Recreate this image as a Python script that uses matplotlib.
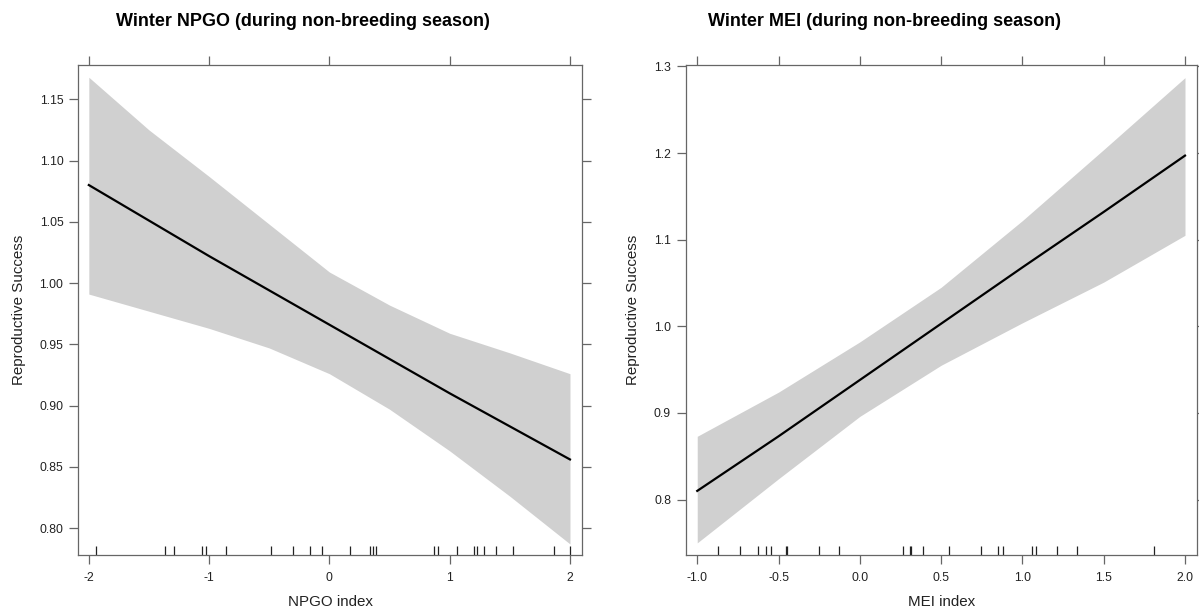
import matplotlib
matplotlib.use("Agg")
import matplotlib.pyplot as plt

plt.rcParams['font.family'] = ['Liberation Sans', 'DejaVu Sans']

# --- NPGO panel ---
npgo_x = [-2.0, -1.5, -1.0, -0.5, 0.0, 0.5, 1.0, 1.5, 2.0]
npgo_fit = [1.080, 1.051, 1.022, 0.994, 0.966, 0.938, 0.910, 0.883, 0.856]
npgo_upper = [1.168, 1.125, 1.087, 1.048, 1.009, 0.982, 0.959, 0.943, 0.926]
npgo_lower = [0.991, 0.977, 0.963, 0.947, 0.926, 0.897, 0.863, 0.826, 0.787]
npgo_rug = [-1.94, -1.367, -1.295, -1.062, -1.026, -0.859, -0.488, -0.305,
            -0.161, -0.058, 0.172, 0.338, 0.366, 0.388, 0.870, 0.906, 1.059,
            1.203, 1.231, 1.286, 1.383, 1.530, 1.868, 2.0]
npgo_xticks = [-2, -1, 0, 1, 2]
npgo_yticks = [0.80, 0.85, 0.90, 0.95, 1.00, 1.05, 1.10, 1.15]

# --- MEI panel ---
mei_x = [-1.0, -0.5, 0.0, 0.5, 1.0, 1.5, 2.0]
mei_fit = [0.810, 0.873, 0.938, 1.003, 1.068, 1.132, 1.197]
mei_upper = [0.873, 0.924, 0.982, 1.045, 1.122, 1.204, 1.287]
mei_lower = [0.750, 0.824, 0.896, 0.955, 1.004, 1.051, 1.105]
mei_rug = [-0.874, -0.734, -0.628, -0.578, -0.546, -0.457, -0.450, -0.250,
           -0.127, 0.265, 0.306, 0.316, 0.386, 0.550, 0.747, 0.849, 0.878,
           1.058, 1.081, 1.212, 1.335, 1.811]
mei_xticks = [-1.0, -0.5, 0.0, 0.5, 1.0, 1.5, 2.0]
mei_yticks = [0.8, 0.9, 1.0, 1.1, 1.2, 1.3]

fig = plt.figure(figsize=(11.99, 6.12), dpi=100)
W, H = 1199, 612


def panel(rect, x, fit, lo, hi, rug, xticks, yticks, xlim, ylim, xfmt, yfmt,
          xlabel):
    ax = fig.add_axes(rect)
    ax.fill_between(x, lo, hi, color='#d0d0d0', linewidth=0)
    ax.plot(x, fit, color='black', linewidth=1.6)
    ax.vlines(rug, 0, 0.019, transform=ax.get_xaxis_transform(),
              color='#222222', linewidth=0.9)
    ax.set_xlim(*xlim)
    ax.set_ylim(*ylim)
    ax.set_xticks(xticks)
    ax.set_xticklabels([xfmt.format(v) for v in xticks])
    ax.set_yticks(yticks)
    ax.set_yticklabels([yfmt.format(v) for v in yticks])
    ax.tick_params(direction='out', length=6.5, width=0.9, color='#666666',
                   labelsize=8.8, labelcolor='#222222', pad=4,
                   top=True, right=True)
    ax.tick_params(axis='x', pad=6)
    for s in ax.spines.values():
        s.set_color('#666666')
        s.set_linewidth(0.9)
    ax.set_xlabel(xlabel, fontsize=10.9, color='#222222', labelpad=8)
    ax.set_ylabel('Reproductive Success', fontsize=10.9, color='#222222',
                  labelpad=10)
    return ax


ax1 = panel([78 / W, 57 / H, 504 / W, 490 / H], npgo_x, npgo_fit, npgo_lower,
            npgo_upper, npgo_rug, npgo_xticks, npgo_yticks, (-2.09, 2.1),
            (0.778, 1.178), '{:g}', '{:.2f}', 'NPGO index')
ax2 = panel([685.7 / W, 57 / H, 511 / W, 490 / H], mei_x, mei_fit, mei_lower,
            mei_upper, mei_rug, mei_xticks, mei_yticks, (-1.071, 2.072),
            (0.736, 1.3016), '{:.1f}', '{:.1f}', 'MEI index')

fig.text(302.5 / W, 1 - 22 / H, 'Winter NPGO (during non-breeding season)',
         ha='center', va='center', fontsize=13, fontweight='bold')
fig.text(885 / W, 1 - 22 / H, 'Winter MEI (during non-breeding season)',
         ha='center', va='center', fontsize=13, fontweight='bold')

fig.savefig('out.png', dpi=100)
